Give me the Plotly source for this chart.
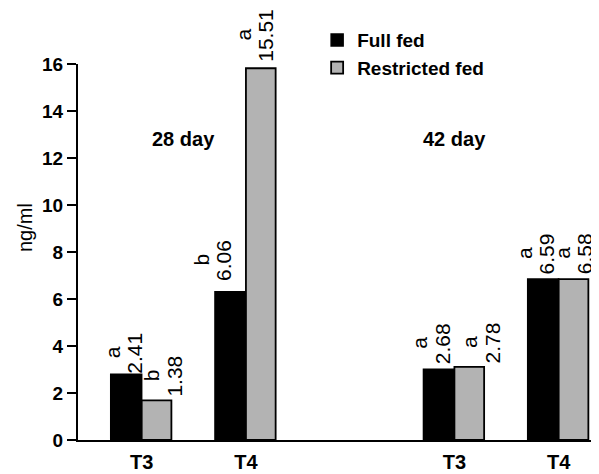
import plotly.graph_objects as go

# ---- data ----
groups = ["T3", "T4", "T3", "T4"]
x_pos = [0, 1, 3, 4]
full_fed = [2.80, 6.31, 3.01, 6.85]
restricted_fed = [1.69, 15.82, 3.11, 6.85]
full_labels = ["2.41", "6.06", "2.68", "6.59"]
restricted_labels = ["1.38", "15.51", "2.78", "6.58"]
full_letters = ["a", "b", "a", "a"]
restricted_letters = ["b", "a", "a", "a"]
periods = ["28 day", "42 day"]
period_x = [0.40, 3.0]
period_y = [12.8, 12.8]
y_ticks = [0, 2, 4, 6, 8, 10, 12, 14, 16]

# ---- style: label placement offsets (pixels) ----
full_label_dx = [-1.5, -17, -6.7, -6.5]
restricted_label_dx = [8, -5, 12.5, 1]
full_label_dy = [2, 12, 6, 6]
restricted_label_dy = [5, 7, 4, 6]

FONT = "Liberation Sans, Arial, sans-serif"
W_FULL = 0.297
W_RES = 0.285
LAB_SIZE = 21
COL = 11.25   # half distance between letter column and value column (px)


def text_len(s, size):
    # approximate rendered length of a numeric label (Arial metrics)
    return sum(0.278 if c == "." else 0.556 for c in s) * size


fig = go.Figure()
fig.add_trace(go.Bar(
    x=x_pos, y=full_fed, name="Full fed", width=W_FULL, offset=-W_FULL,
    marker=dict(color="#000000", line=dict(color="#000000", width=1.5)),
))
fig.add_trace(go.Bar(
    x=x_pos, y=restricted_fed, name="Restricted fed", width=W_RES, offset=0,
    marker=dict(color="#b3b3b3", line=dict(color="#000000", width=1.8)),
))

annotations = []
lab_font = dict(family=FONT, size=LAB_SIZE, color="black")


def add_labels(xc, v, lab, let, dx, dy):
    annotations.append(dict(
        x=xc, y=v, text=lab, textangle=-90, xanchor="center", yanchor="bottom",
        showarrow=False, xshift=dx + COL - 1, yshift=dy - 2, font=lab_font,
        borderpad=0,
    ))
    annotations.append(dict(
        x=xc, y=v, text=let, textangle=-90, xanchor="center", yanchor="middle",
        showarrow=False, xshift=dx - COL - 1, yshift=dy + text_len(lab, LAB_SIZE) / 2,
        font=lab_font, borderpad=0,
    ))


for xp, v, lab, let, dx, dy in zip(x_pos, full_fed, full_labels, full_letters,
                                   full_label_dx, full_label_dy):
    add_labels(xp - W_FULL / 2, v, lab, let, dx, dy)
for xp, v, lab, let, dx, dy in zip(x_pos, restricted_fed, restricted_labels,
                                   restricted_letters, restricted_label_dx,
                                   restricted_label_dy):
    add_labels(xp + W_RES / 2, v, lab, let, dx, dy)

for t, px, py in zip(periods, period_x, period_y):
    annotations.append(dict(
        x=px, y=py, text=t, showarrow=False, xanchor="center", yanchor="middle",
        font=dict(family=FONT, size=20, color="black", weight="bold"),
    ))
annotations.append(dict(
    xref="paper", yref="paper", x=-0.102, y=0.566, text="ng/ml", textangle=-90,
    showarrow=False, xanchor="center", yanchor="middle",
    font=dict(family=FONT, size=20, color="black"),
))

fig.update_layout(
    width=591, height=466,
    margin=dict(l=70, r=0, t=56, b=34, autoexpand=False),
    plot_bgcolor="white", paper_bgcolor="white",
    showlegend=True,
    legend=dict(
        x=0.459, y=1.114, xanchor="left", yanchor="top",
        font=dict(family=FONT, size=19, color="black", weight="bold"),
        bgcolor="rgba(0,0,0,0)",
    ),
    annotations=annotations,
    xaxis=dict(
        range=[-0.611, 4.387], tickvals=x_pos, ticktext=groups,
        showline=True, linecolor="black", linewidth=2, ticks="",
        showgrid=False, zeroline=False, ticklabelstandoff=3,
        tickfont=dict(family=FONT, size=20, color="black", weight="bold"),
    ),
    yaxis=dict(
        range=[0, 16], tickvals=y_ticks,
        showline=True, linecolor="black", linewidth=2,
        ticks="outside", ticklen=9, tickwidth=2, tickcolor="black",
        showgrid=False, zeroline=False,
        tickfont=dict(family=FONT, size=19, color="black", weight="bold"),
    ),
)

fig.write_html("out.html")
